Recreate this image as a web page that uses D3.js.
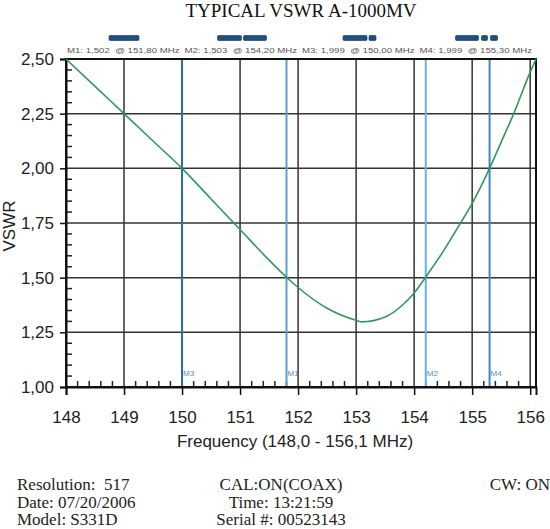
<!DOCTYPE html>
<html lang="en">
<head>
    <meta charset="UTF-8">
    <title>Typical VSWR A-1000MV</title>
    <script src="https://cdnjs.cloudflare.com/ajax/libs/d3/7.8.5/d3.min.js"></script>
    <style>
        body { margin: 0; padding: 0; background: #fff; }
        svg { display: block; }
        .sans { font-family: "Liberation Sans", Arial, sans-serif; }
        .serif { font-family: "Liberation Serif", "Times New Roman", serif; }
        .grid line { stroke: #333; stroke-width: 1.5px; }
    </style>
</head>
<body>
    <div id="chart"></div>
    <script>
        // trace
        const freqMHz = [148.0, 148.5, 149.0, 149.5, 150.0, 150.5, 151.0, 151.5, 151.8, 152.0, 152.5,
                         153.0, 153.1, 153.5, 153.8, 154.0, 154.2, 154.5, 154.8, 155.0, 155.3, 155.5, 155.7, 156.0, 156.1];
        const vswr    = [2.50, 2.375, 2.25, 2.125, 2.00, 1.86, 1.72, 1.58, 1.502, 1.455, 1.36,
                         1.305, 1.298, 1.32, 1.375, 1.43, 1.503, 1.62, 1.75, 1.84, 2.00, 2.12, 2.24, 2.44, 2.50];

        const markerNames = ["M1", "M2", "M3", "M4"];
        const markerFreq  = [151.80, 154.20, 150.00, 155.30];
        const markerVswr  = [1.502, 1.503, 1.999, 1.999];
        const markerColors = ["#5a9ed6", "#6cb0e2", "#2f6f9f", "#3e86c2"];

        const xTicks = [148, 149, 150, 151, 152, 153, 154, 155, 156];
        const yTicks = [1.00, 1.25, 1.50, 1.75, 2.00, 2.25, 2.50];

        const infoLeft   = ["Resolution:  517", "Date: 07/20/2006", "Model: S331D"];
        const infoCenter = ["CAL:ON(COAX)", "Time: 13:21:59", "Serial #: 00523143"];
        const infoRight  = ["CW: ON"];

        const W = 550, H = 529;
        const margin = { top: 59, right: 14, bottom: 142, left: 66 };
        const width = W - margin.left - margin.right;
        const height = H - margin.top - margin.bottom;

        const comma = s => s.replace(".", ",");

        const svg = d3.select("#chart").append("svg")
            .attr("width", W)
            .attr("height", H);

        const g = svg.append("g")
            .attr("transform", `translate(${margin.left},${margin.top})`);

        const x = d3.scaleLinear().domain([148, 156.1]).range([0, width]);
        const y = d3.scaleLinear().domain([1, 2.5]).range([height, 0]);

        // title
        svg.append("text")
            .attr("class", "serif")
            .attr("x", 301).attr("y", 17)
            .attr("text-anchor", "middle")
            .style("font-size", "19px")
            .attr("fill", "#111")
            .text("TYPICAL VSWR A-1000MV");

        // marker readout strip above the plot
        const quarter = width / 4;
        const flagSegments = [[[43, 73]], [[34, 58], [60, 83]], [[42, 66], [68, 75]], [[37, 60], [63, 69], [72, 79]]];
        flagSegments.forEach((segs, i) => {
            segs.forEach(s => {
                svg.append("rect")
                    .attr("x", margin.left + i * quarter + s[0])
                    .attr("y", 35.5)
                    .attr("width", s[1] - s[0])
                    .attr("height", 5)
                    .attr("rx", 1)
                    .attr("fill", "#1f4f80")
                    .attr("stroke", "#123456")
                    .attr("stroke-width", 0.6);
            });
            svg.append("text")
                .attr("class", "sans")
                .attr("x", margin.left + i * quarter + 1)
                .attr("y", 53)
                .attr("xml:space", "preserve")
                .attr("textLength", quarter - 5)
                .attr("lengthAdjust", "spacingAndGlyphs")
                .style("font-size", "7.5px")
                .attr("fill", "#555")
                .text(`${markerNames[i]}: ${comma(markerVswr[i].toFixed(3))}  @ ${comma(markerFreq[i].toFixed(2))} MHz`);
        });

        // gridlines
        g.append("g").attr("class", "grid")
            .selectAll("line").data(xTicks.slice(1)).enter().append("line")
            .attr("x1", d => x(d)).attr("x2", d => x(d))
            .attr("y1", 0).attr("y2", height);
        g.append("g").attr("class", "grid")
            .selectAll("line").data(yTicks.slice(1)).enter().append("line")
            .attr("x1", 0).attr("x2", width)
            .attr("y1", d => y(d)).attr("y2", d => y(d));

        // minor ticks inside the frame
        const minorX = d3.range(148.2, 156.05, 0.2).filter(v => Math.abs(v - Math.round(v)) > 0.01);
        const minorY = d3.range(1.05, 2.5, 0.05).filter(v => Math.abs(v * 4 - Math.round(v * 4)) > 0.01);
        g.append("g").selectAll("line").data(minorX).enter().append("line")
            .attr("x1", d => x(d)).attr("x2", d => x(d))
            .attr("y1", height).attr("y2", height - 6)
            .attr("stroke", "#222").attr("stroke-width", 1.5);
        g.append("g").selectAll("line").data(minorY).enter().append("line")
            .attr("x1", 0).attr("x2", 6)
            .attr("y1", d => y(d)).attr("y2", d => y(d))
            .attr("stroke", "#222").attr("stroke-width", 1.5);

        // marker lines
        markerFreq.forEach((f, i) => {
            g.append("line")
                .attr("x1", x(f)).attr("x2", x(f))
                .attr("y1", 0).attr("y2", height)
                .attr("stroke", markerColors[i])
                .attr("stroke-width", 2);
            g.append("text")
                .attr("class", "sans")
                .attr("x", x(f) + 1).attr("y", height - 11)
                .style("font-size", "8px")
                .attr("fill", "#4a90cc")
                .text(markerNames[i]);
        });

        // frame
        g.append("rect")
            .attr("width", width).attr("height", height)
            .attr("fill", "none")
            .attr("stroke", "#111").attr("stroke-width", 2);

        // axes
        const xAxis = g.append("g")
            .attr("transform", `translate(0,${height})`)
            .call(d3.axisBottom(x).tickValues(xTicks).tickSize(8).tickPadding(16).tickFormat(d3.format("d")));
        const yAxis = g.append("g")
            .call(d3.axisLeft(y).tickValues(yTicks).tickSize(6).tickPadding(6).tickFormat(d => comma(d3.format(".2f")(d))));
        [xAxis, yAxis].forEach(a => {
            a.select(".domain").attr("stroke", "#111").attr("stroke-width", 2);
            a.selectAll(".tick line").attr("stroke", "#111").attr("stroke-width", 1.5);
            a.selectAll(".tick text")
                .attr("class", "sans")
                .style("font-size", "17px")
                .attr("fill", "#222");
        });

        // VSWR trace
        const line = d3.line()
            .x((d, i) => x(freqMHz[i]))
            .y(d => y(d))
            .curve(d3.curveMonotoneX);
        g.append("path")
            .datum(vswr)
            .attr("d", line)
            .attr("fill", "none")
            .attr("stroke", "#2f9a57")
            .attr("stroke-width", 1.6);

        // axis titles
        svg.append("text")
            .attr("class", "sans")
            .attr("x", 295).attr("y", 447)
            .attr("text-anchor", "middle")
            .style("font-size", "17px")
            .attr("fill", "#222")
            .text("Frequency (148,0 - 156,1 MHz)");
        svg.append("text")
            .attr("class", "sans")
            .attr("transform", "translate(15,226) rotate(-90)")
            .attr("text-anchor", "middle")
            .style("font-size", "17px")
            .attr("fill", "#222")
            .text("VSWR");

        // instrument info at the foot
        const info = svg.append("g").attr("class", "serif")
            .style("font-size", "17px").attr("fill", "#222");
        const rowY = i => 490 + i * 17.5;
        infoLeft.forEach((t, i) => {
            info.append("text").attr("xml:space", "preserve").attr("x", 17).attr("y", rowY(i)).text(t);
        });
        infoCenter.forEach((t, i) => {
            info.append("text").attr("x", 281).attr("y", rowY(i)).attr("text-anchor", "middle").text(t);
        });
        infoRight.forEach((t, i) => {
            info.append("text").attr("x", 550).attr("y", rowY(i)).attr("text-anchor", "end").text(t);
        });
    </script>
</body>
</html>
